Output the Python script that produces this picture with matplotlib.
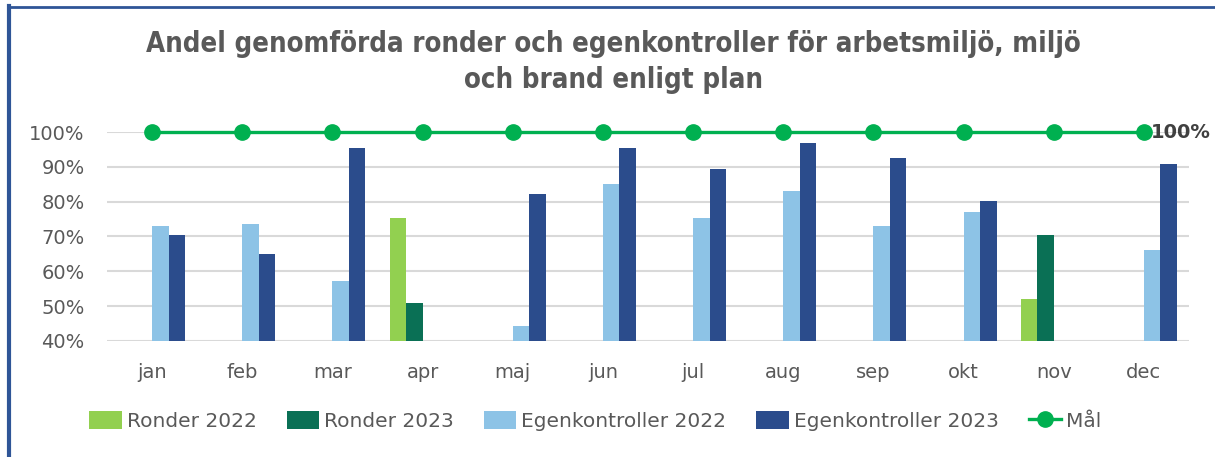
import numpy as np
import matplotlib.pyplot as plt
from matplotlib.lines import Line2D

nan = np.nan
months = ['jan', 'feb', 'mar', 'apr', 'maj', 'jun', 'jul', 'aug', 'sep', 'okt', 'nov', 'dec']
ronder_2022 = [nan, nan, nan, 75.2, nan, nan, nan, nan, nan, nan, 52.2, nan]
ronder_2023 = [nan, nan, nan, 50.9, nan, nan, nan, nan, nan, nan, 70.5, nan]
egen_2022 = [72.9, 73.6, 57.3, nan, 44.3, 85.2, 75.3, 83.0, 73.1, 76.9, nan, 66.0]
egen_2023 = [70.5, 65.0, 95.4, nan, 82.3, 95.4, 89.3, 96.9, 92.6, 80.3, nan, 90.9]
mal = [100] * 12

W, H = 1215, 457
fig = plt.figure(figsize=(W / 100, H / 100), dpi=100)
ax = fig.add_axes([107 / W, (H - 341) / H, (1189 - 107) / W, (341 - 132) / H])

x = np.arange(len(months))
w = 0.183
series = [
    (ronder_2022, '#92D050', 'Ronder 2022'),
    (ronder_2023, '#0A7055', 'Ronder 2023'),
    (egen_2022, '#8DC3E6', 'Egenkontroller 2022'),
    (egen_2023, '#2B4C8C', 'Egenkontroller 2023'),
]
handles = []
for i, (vals, col, lab) in enumerate(series):
    b = ax.bar(x + (i - 1.5) * w, vals, width=w, color=col, label=lab, zorder=2)
    handles.append(b)

ln, = ax.plot(x, mal, color='#00B050', lw=2.4, marker='o', ms=11, label='Mål',
              clip_on=False, zorder=3)
handles.append(ln)
ax.text(x[-1] + 0.08, mal[-1], '100%', fontsize=14, fontweight='bold',
        color='#404040', va='center', ha='left')

ax.set_xlim(-0.5, 11.5)
ax.set_ylim(40, 100)
ax.set_yticks(range(40, 101, 10))
ax.set_yticklabels([f'{v}%' for v in range(40, 101, 10)])
ax.set_xticks(x)
ax.set_xticklabels(months)
ax.tick_params(length=0, labelsize=14, labelcolor='#595959')
ax.tick_params(axis='x', pad=16)
ax.tick_params(axis='y', pad=16)
ax.grid(axis='y', color='#D9D9D9', lw=1.5, zorder=0)
ax.set_axisbelow(True)
for s in ax.spines.values():
    s.set_visible(False)

fig.text(0.505, 1 - 62 / H, 'Andel genomförda ronder och egenkontroller för arbetsmiljö, miljö\noch brand enligt plan',
         ha='center', va='center', fontsize=19.8, fontweight='bold', color='#595959',
         fontstretch='condensed', linespacing=1.4)

fig.legend(handles=handles, loc='center', bbox_to_anchor=(0.49, 1 - 421 / H), ncol=5,
           frameon=False, labelcolor='#595959', handlelength=1.6, handleheight=1.0,
           handletextpad=0.25, columnspacing=1.5, prop={'size': 14.5})

fig.add_artist(Line2D([9 / W, 9 / W], [0, 1 - 6 / H], color='#2F5597', lw=3))
fig.add_artist(Line2D([9 / W, 1], [1 - 7 / H, 1 - 7 / H], color='#2F5597', lw=2))

fig.savefig('out.png', dpi=100)
